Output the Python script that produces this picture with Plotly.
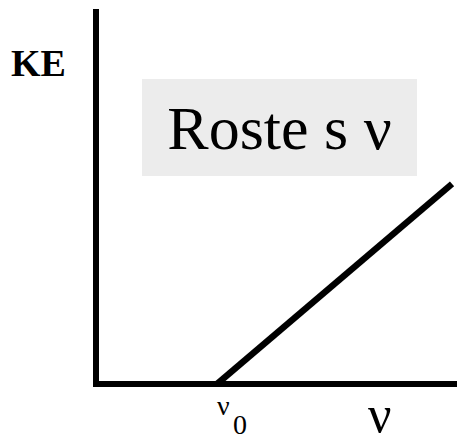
import plotly.graph_objects as go

# photoelectric effect: kinetic energy vs frequency (arbitrary units)
nu = [3.36, 9.89]
ke = [0, 5.56]

nu_range = [0.083, 10.25]
ke_range = [0.083, 10.42]

serif = 'Liberation Serif'

fig = go.Figure()
fig.add_trace(go.Scatter(
    x=nu, y=ke, mode='lines',
    line=dict(color='black', width=6.5),
    hoverinfo='skip', showlegend=False
))

axis_style = dict(
    showline=True, linecolor='black', linewidth=6,
    showgrid=False, zeroline=False, ticks='', showticklabels=False
)
fig.update_xaxes(range=nu_range, **axis_style)
fig.update_yaxes(range=ke_range, **axis_style)

label = dict(showarrow=False, xanchor='center', yanchor='middle')

fig.add_annotation(
    text='<b>KE</b>', xref='paper', yref='paper', x=-0.165, y=0.856,
    font=dict(family=serif, size=38, color='black'), **label
)
fig.add_annotation(
    text='Roste s ν', xref='paper', yref='paper', x=0.493, y=0.681,
    width=275, height=97, borderpad=0, borderwidth=0, bgcolor='#ececec',
    font=dict(family=serif, size=62, color='black'), **label
)
fig.add_annotation(
    text='ν', xref='x', yref='paper', x=nu[0], y=-0.0659, xshift=6.5,
    font=dict(family=serif, size=28, color='black'), **label
)
fig.add_annotation(
    text='0', xref='x', yref='paper', x=nu[0], y=-0.1167, xshift=23.5,
    font=dict(family=serif, size=28, color='black'), **label
)
fig.add_annotation(
    text='ν', xref='paper', yref='paper', x=0.768, y=-0.0898,
    font=dict(family=serif, size=52, color='black'), **label
)

# page body adds an 8px offset, so the figure is 8px smaller on each axis
fig.update_layout(
    width=457, height=428,
    margin=dict(l=91, r=0, t=1, b=55),
    paper_bgcolor='white', plot_bgcolor='white'
)

fig.write_html('out.html')
